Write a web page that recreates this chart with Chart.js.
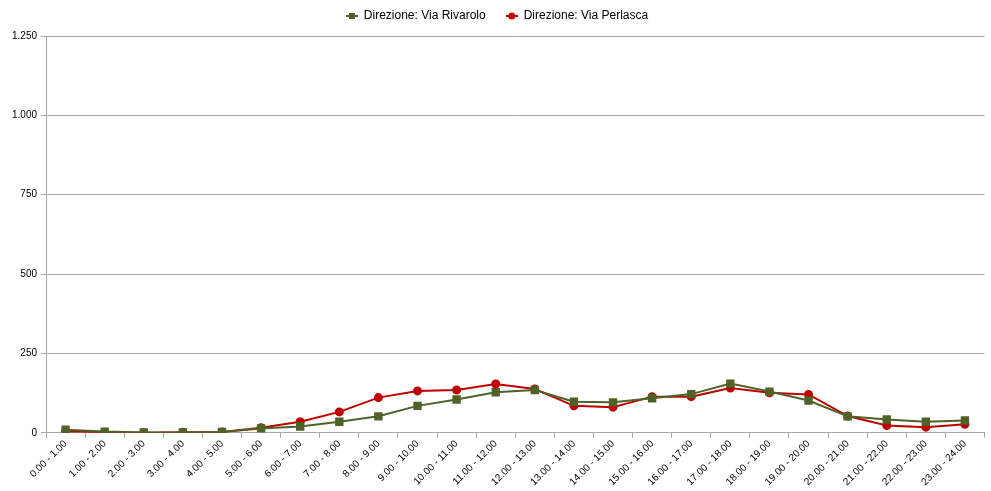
<!DOCTYPE html>
<html>
<head>
<meta charset="utf-8">
<script src="https://cdn.jsdelivr.net/npm/chart.js@4"></script>
<style>
  html, body { margin: 0; padding: 0; background: #fff; }
  #wrap { width: 991px; height: 491px; }
</style>
</head>
<body>
<div id="wrap"><canvas id="chart" width="991" height="491"></canvas></div>
<script>
// fasce orarie
const fasce = ['0.00 - 1.00', '1.00 - 2.00', '2.00 - 3.00', '3.00 - 4.00', '4.00 - 5.00', '5.00 - 6.00',
  '6.00 - 7.00', '7.00 - 8.00', '8.00 - 9.00', '9.00 - 10.00', '10.00 - 11.00', '11.00 - 12.00',
  '12.00 - 13.00', '13.00 - 14.00', '14.00 - 15.00', '15.00 - 16.00', '16.00 - 17.00', '17.00 - 18.00',
  '18.00 - 19.00', '19.00 - 20.00', '20.00 - 21.00', '21.00 - 22.00', '22.00 - 23.00', '23.00 - 24.00'];

const viaRivarolo = [10, 4, 1, 1, 3, 14, 20, 35, 52, 85, 105, 128, 135, 98, 96, 109, 122, 155, 130, 102, 52, 42, 35, 39];
const viaPerlasca = [4, 2, 0, 2, 3, 16, 35, 66, 111, 132, 135, 154, 138, 85, 81, 114, 114, 141, 126, 121, 53, 23, 18, 27];

const yTicks = [0, 250, 500, 750, 1000, 1250];

// icona legenda: linea con marcatore
function legendIcon(color, shape) {
  const c = document.createElement('canvas');
  c.width = 12; c.height = 10;
  const g = c.getContext('2d');
  g.strokeStyle = color; g.lineWidth = 2;
  g.beginPath(); g.moveTo(0, 5); g.lineTo(12, 5); g.stroke();
  g.fillStyle = color;
  if (shape === 'rect') g.fillRect(3, 2, 6, 6);
  else { g.beginPath(); g.arc(6, 5, 3.5, 0, Math.PI * 2); g.fill(); }
  return c;
}

// spazio extra sotto la legenda
const legendMargin = {
  id: 'legendMargin',
  beforeInit(chart) {
    const fit = chart.legend.fit;
    chart.legend.fit = function () {
      fit.bind(chart.legend)();
      this.height += 4;
    };
  }
};

const ctx = document.getElementById('chart').getContext('2d');
Chart.defaults.font.family = '"Liberation Sans Narrow", "Liberation Sans", Arial, sans-serif';
Chart.defaults.font.size = 10;
Chart.defaults.color = '#000';

new Chart(ctx, {
  type: 'line',
  data: {
    labels: fasce,
    datasets: [{
      label: 'Direzione: Via Rivarolo',
      data: viaRivarolo,
      borderColor: '#4F6228',
      backgroundColor: '#4F6228',
      borderWidth: 2,
      pointStyle: 'rect',
      pointRadius: 4.5,
      tension: 0
    }, {
      label: 'Direzione: Via Perlasca',
      data: viaPerlasca,
      borderColor: '#C00000',
      backgroundColor: '#C00000',
      borderWidth: 2,
      pointStyle: 'circle',
      pointRadius: 3.5,
      tension: 0
    }]
  },
  options: {
    responsive: false,
    animation: false,
    layout: { padding: { left: 8, right: 5, top: 0, bottom: 3 } },
    plugins: {
      legend: {
        position: 'top',
        labels: {
          usePointStyle: true,
          boxWidth: 12,
          padding: 10,
          font: { size: 12 },
          generateLabels: (chart) => chart.data.datasets.map((ds, i) => ({
            text: ds.label + (i === 0 ? '   ' : ''),
            pointStyle: legendIcon(ds.borderColor, i === 0 ? 'rect' : 'circle'),
            datasetIndex: i,
            fontColor: '#000'
          }))
        }
      },
      tooltip: { enabled: false }
    },
    scales: {
      x: {
        offset: true,
        grid: { display: true, drawOnChartArea: false, color: '#a6a6a6', tickLength: 5, offset: true },
        border: { color: '#a6a6a6' },
        ticks: { minRotation: 45, maxRotation: 45, autoSkip: false, font: { size: 10 }, padding: 0 }
      },
      y: {
        min: 0,
        max: 1250,
        afterBuildTicks: (axis) => { axis.ticks = yTicks.map(v => ({ value: v })); },
        grid: { color: '#a6a6a6', tickLength: 5 },
        border: { color: '#a6a6a6' },
        ticks: {
          padding: 4,
          font: { size: 10 },
          callback: (v) => v.toLocaleString('it-IT')
        }
      }
    }
  },
  plugins: [legendMargin]
});
</script>
</body>
</html>
